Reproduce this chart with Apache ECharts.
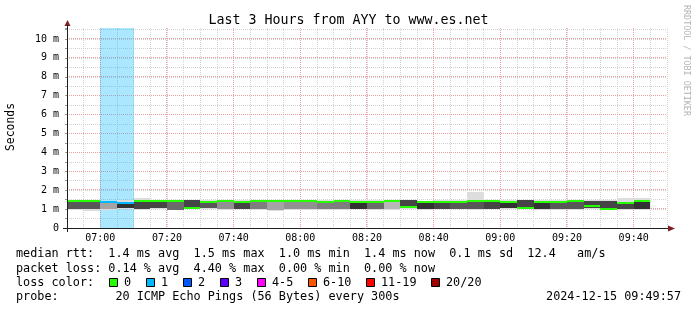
<!DOCTYPE html>
<html><head><meta charset="utf-8">
<script src="https://cdn.jsdelivr.net/npm/echarts@6/dist/echarts.min.js"></script>
<style>html,body{margin:0;padding:0;background:#fff}#c{width:697px;height:310px}</style>
</head><body><div id="c"></div>
<script>
// ---------------- data ----------------
const titleText = 'Last 3 Hours from AYY to www.es.net';
const times = ['06:50','06:55','07:00','07:05','07:10','07:15','07:20','07:25','07:30','07:35',
               '07:40','07:45','07:50','07:55','08:00','08:05','08:10','08:15','08:20','08:25',
               '08:30','08:35','08:40','08:45','08:50','08:55','09:00','09:05','09:10','09:15',
               '09:20','09:25','09:30','09:35','09:40'];
// median rtt (ms)
const medianMs = [1.43,1.43,1.39,1.33,1.43,1.42,1.44,1.08,1.40,1.42,
                  1.35,1.42,1.42,1.42,1.42,1.40,1.42,1.35,1.38,1.44,
                  1.12,1.35,1.36,1.37,1.43,1.45,1.38,1.08,1.40,1.38,
                  1.41,1.14,1.00,1.34,1.43];
// fast-path cluster rtt (ms)
const fastMs = [1.00,1.02,1.00,1.07,1.00,1.07,0.97,1.05,1.05,0.98,
                1.03,1.00,0.97,1.00,1.02,1.00,1.00,1.02,1.00,1.00,
                1.05,0.99,1.03,1.02,1.00,1.02,1.07,1.04,1.00,0.98,
                1.00,1.06,0.97,1.00,1.00];
// slow-path cluster rtt (ms)
const slowMs = [1.45,1.45,1.40,1.35,1.45,1.44,1.46,1.46,1.42,1.44,
                1.38,1.44,1.44,1.44,1.44,1.42,1.44,1.37,1.40,1.46,
                1.47,1.41,1.38,1.39,1.45,1.47,1.42,1.47,1.42,1.40,
                1.43,1.44,1.45,1.36,1.45];
// min / max ping (ms)
const minMs = [0.96,0.90,0.97,1.02,0.97,1.02,0.93,1.02,1.00,0.95,
               1.00,0.96,0.90,0.97,0.95,0.97,0.97,0.99,0.97,0.97,
               1.02,0.96,1.00,0.98,0.97,0.99,1.03,1.01,0.97,0.94,
               0.97,1.03,0.95,0.97,0.97];
const maxMs = [1.48,1.48,1.45,1.47,1.58,1.47,1.49,1.49,1.48,1.47,
               1.48,1.47,1.47,1.47,1.47,1.46,1.47,1.47,1.46,1.48,
               1.50,1.45,1.46,1.46,1.90,1.49,1.47,1.50,1.46,1.46,
               1.46,1.47,1.48,1.60,1.60];
// number of the 20 pings on the fast path
const fastPings = [8,8,4,10,9,9,7,11,8,5,
                   9,6,4,5,5,6,6,10,7,3,
                   11,10,9,8,8,9,10,11,10,8,
                   8,11,11,9,10];
// lost pings of 20
const lostPings = [0,0,1,1,0,0,0,0,0,0,
                   0,0,0,0,0,0,0,0,0,0,
                   0,0,0,0,0,0,0,0,0,0,
                   0,0,0,0,0];
const PINGS = 20;
const STEP_MIN = 5;
const SPAN_MIN = 180;
const Y_MAX = 10.58;
const xTickLabels = ['07:00','07:20','07:40','08:00','08:20','08:40','09:00','09:20','09:40'];
const yTickValues = [0,1,2,3,4,5,6,7,8,9,10];
const lossLegendLabels = ['0','1','2','3','4-5','6-10','11-19','20/20'];
const lossLegendUpper  = [0,1,2,3,5,10,19,20];
const lossLegendColors = ['#26ff00','#00b8ff','#0059ff','#5e00ff','#ff00ff','#ff5500','#ff0000','#a10000'];
const statsLines = [
  'median rtt:  1.4 ms avg  1.5 ms max  1.0 ms min  1.4 ms now  0.1 ms sd  12.4   am/s',
  'packet loss: 0.14 % avg  4.40 % max  0.00 % min  0.00 % now'
];
const lossColorTitle = 'loss color:';
const probeText = 'probe:        20 ICMP Echo Pings (56 Bytes) every 300s';
const stampText = '2024-12-15 09:49:57';
const yAxisTitle = 'Seconds';
const watermark = 'RRDTOOL / TOBI OETIKER';

// ---------------- helpers ----------------
const MONO = '"DejaVu Sans Mono", "Liberation Mono", monospace';
const toMin = s => { const p = s.split(':'); return (+p[0]) * 60 + (+p[1]); };
const fmt = m => String(Math.floor(m / 60)).padStart(2, '0') + ':' + String(m % 60).padStart(2, '0');
const X_MIN = toMin(times[0]);
const X_MAX = X_MIN + SPAN_MIN;
const majorMins = xTickLabels.map(toMin);
const majorSet = new Set(majorMins);
const yTickSet = new Set(yTickValues);
function spo(p) { const d = Math.round(p * 2); return (d + 1) % 2 === 0 ? d / 2 : (d - 1) / 2; }
function lossIndex(n) { for (let i = 0; i < lossLegendUpper.length; i++) if (n <= lossLegendUpper[i]) return i; return lossLegendUpper.length - 1; }
function hexA(hex, a) {
  const r = parseInt(hex.slice(1,3),16), g = parseInt(hex.slice(3,5),16), b = parseInt(hex.slice(5,7),16);
  return `rgba(${r},${g},${b},${a})`;
}
function smokeGray(f) {
  const half = PINGS / 2;
  const k = Math.max(1, Math.min(f, PINGS - f));
  const g = Math.floor(190 / half * (half - k)) + 50;
  return `rgb(${g},${g},${g})`;
}

const rows = times.map((t, i) => [toMin(t), minMs[i], maxMs[i], fastMs[i], slowMs[i], fastPings[i], medianMs[i], lostPings[i]]);

// ---------------- chart ----------------
const chart = echarts.init(document.getElementById('c'), null, { renderer: 'canvas', width: 697, height: 310 });

const graphics = [];
graphics.push({ type: 'text', x: 11, y: 127, rotation: Math.PI / 2,
  style: { text: yAxisTitle, font: '11.4px ' + MONO, fill: '#000', textAlign: 'center', textVerticalAlign: 'middle', verticalAlign: 'middle' } });
graphics.push({ type: 'text', x: 686, y: 5, rotation: -Math.PI / 2,
  style: { text: watermark, font: '8.4px ' + MONO, fill: '#b4b4b4', textAlign: 'left', textVerticalAlign: 'middle', verticalAlign: 'middle' } });
// axis lines and arrows
graphics.push({ type: 'polygon', z: 100, shape: { points: [[668, 225.5], [675, 228.5], [668, 231.5]] }, style: { fill: '#801f1f' } });
graphics.push({ type: 'polygon', z: 100, shape: { points: [[64.5, 26], [67.5, 20], [70.5, 26]] }, style: { fill: '#801f1f' } });
graphics.push({ type: 'line', z: 100, shape: { x1: 63, y1: 228.5, x2: 668, y2: 228.5 }, style: { stroke: '#1f1f1f', lineWidth: 1 } });
graphics.push({ type: 'line', z: 100, shape: { x1: 67.5, y1: 232, x2: 67.5, y2: 25 }, style: { stroke: '#1f1f1f', lineWidth: 1 } });

const LEG_FONT = '11.8px ' + MONO;
const lineY = [254, 268.5, 283, 297];
statsLines.forEach((s, i) => graphics.push({ type: 'text', x: 16, y: lineY[i],
  style: { text: s, font: LEG_FONT, fill: '#000', textAlign: 'left', textVerticalAlign: 'middle', verticalAlign: 'middle' } }));
graphics.push({ type: 'text', x: 16, y: lineY[2],
  style: { text: lossColorTitle, font: LEG_FONT, fill: '#000', textAlign: 'left', textVerticalAlign: 'middle', verticalAlign: 'middle' } });
const legBoxX = [109.5, 146.5, 183.5, 220.5, 257.5, 308.5, 366.5, 431.5];
lossLegendLabels.forEach((lab, i) => {
  graphics.push({ type: 'rect', shape: { x: legBoxX[i], y: lineY[2] - 4.5, width: 8, height: 8 },
    style: { fill: lossLegendColors[i], stroke: '#000', lineWidth: 1 } });
  graphics.push({ type: 'text', x: legBoxX[i] + 14.5, y: lineY[2],
    style: { text: lab, font: LEG_FONT, fill: '#000', textAlign: 'left', textVerticalAlign: 'middle', verticalAlign: 'middle' } });
});
graphics.push({ type: 'text', x: 16, y: lineY[3],
  style: { text: probeText, font: LEG_FONT, fill: '#000', textAlign: 'left', textVerticalAlign: 'middle', verticalAlign: 'middle' } });
graphics.push({ type: 'text', x: 681, y: lineY[3],
  style: { text: stampText, font: LEG_FONT, fill: '#000', textAlign: 'right', textVerticalAlign: 'middle', verticalAlign: 'middle' } });

const GRAY_GRID = '#d2d2d2';
const RED_GRID = '#eea0a0';

const option = {
  animation: false,
  backgroundColor: '#ffffff',
  title: { text: titleText, left: 'center', top: 9,
    textStyle: { fontFamily: MONO, fontSize: 13.3, fontWeight: 'normal', color: '#000' } },
  grid: { left: 67, right: 30, top: 28, bottom: 82, containLabel: false },
  xAxis: [{
    type: 'value', min: X_MIN, max: X_MAX, interval: STEP_MIN,
    axisLine: { show: false }, axisTick: { show: false },
    axisLabel: { show: true, margin: 5, fontFamily: MONO, fontSize: 10, color: '#000',
      formatter: v => majorSet.has(v) ? fmt(v) : '' },
    splitLine: { show: true, lineStyle: { color: GRAY_GRID, width: 1, type: [1, 1] } }
  }],
  yAxis: [{
    type: 'value', min: 0, max: Y_MAX, interval: 0.5,
    axisLine: { show: false },
    axisTick: { show: true, length: 2, lineStyle: { color: '#9a9a9a' } },
    axisLabel: { show: true, margin: 8, fontFamily: MONO, fontSize: 10, color: '#000',
      formatter: v => !yTickSet.has(v) ? '' : (v === 0 ? '0' : v + ' m') },
    splitLine: { show: true, showMinLine: false, showMaxLine: false, lineStyle: { color: GRAY_GRID, width: 1, type: [1, 1] } }
  }],
  graphic: graphics,
  series: [
    { // major vertical grid lines
      type: 'custom', z: 1, silent: true,
      data: majorMins.map(m => [m]),
      renderItem: (params, api) => {
        const t = api.value(0);
        const b = api.coord([t, 0]), top = api.coord([t, Y_MAX]);
        const x = spo(b[0]);
        return { type: 'line', shape: { x1: x, y1: top[1], x2: x, y2: b[1] },
          style: { stroke: RED_GRID, lineWidth: 1, lineDash: [1, 1] } };
      }
    },
    { // major horizontal grid lines
      type: 'custom', z: 1, silent: true,
      data: yTickValues.filter(v => v > 0).map(v => [X_MIN, v]),
      renderItem: (params, api) => {
        const v = api.value(1);
        const l = api.coord([X_MIN, v]), r = api.coord([X_MAX, v]);
        const y = spo(l[1]);
        return { type: 'line', shape: { x1: l[0], y1: y, x2: r[0], y2: y },
          style: { stroke: RED_GRID, lineWidth: 1, lineDash: [1, 1] } };
      }
    },
    { // loss bars
      type: 'custom', z: 2, silent: true,
      data: rows,
      renderItem: (params, api) => {
        const lost = api.value(7);
        if (!lost) return null;
        const t = api.value(0);
        const x0 = Math.round(api.coord([t, 0])[0]);
        const x1 = Math.round(api.coord([t + STEP_MIN, 0])[0]);
        const y0 = Math.round(api.coord([t, Y_MAX])[1]);
        const y1 = Math.round(api.coord([t, 0])[1]);
        return { type: 'rect', shape: { x: x0, y: y0, width: x1 - x0, height: y1 - y0 },
          style: { fill: hexA(lossLegendColors[lossIndex(lost)], 0.33) } };
      }
    },
    { // smoke
      type: 'custom', z: 3, silent: true,
      data: rows,
      renderItem: (params, api) => {
        const t = api.value(0);
        const x0 = Math.round(api.coord([t, 0])[0]);
        const x1 = Math.round(api.coord([t + STEP_MIN, 0])[0]);
        const yMin = Math.round(api.coord([t, api.value(1)])[1]);
        const yMax = Math.round(api.coord([t, api.value(2)])[1]);
        const yFast = Math.round(api.coord([t, api.value(3)])[1]);
        const ySlow = Math.round(api.coord([t, api.value(4)])[1]);
        return { type: 'group', children: [
          { type: 'rect', shape: { x: x0, y: yMax, width: x1 - x0, height: yMin - yMax }, style: { fill: '#dddddd' } },
          { type: 'rect', shape: { x: x0, y: ySlow, width: x1 - x0, height: yFast - ySlow }, style: { fill: smokeGray(api.value(5)) } }
        ] };
      }
    },
    { // median
      type: 'custom', z: 4, silent: true,
      data: rows,
      renderItem: (params, api) => {
        const t = api.value(0);
        const x0 = Math.round(api.coord([t, 0])[0]);
        const x1 = Math.round(api.coord([t + STEP_MIN, 0])[0]);
        const ym = Math.round(api.coord([t, api.value(6)])[1]);
        return { type: 'rect', shape: { x: x0, y: ym - 1, width: x1 - x0, height: 2 },
          style: { fill: lossLegendColors[lossIndex(api.value(7))] } };
      }
    }
  ]
};
chart.setOption(option);
</script>
</body></html>
